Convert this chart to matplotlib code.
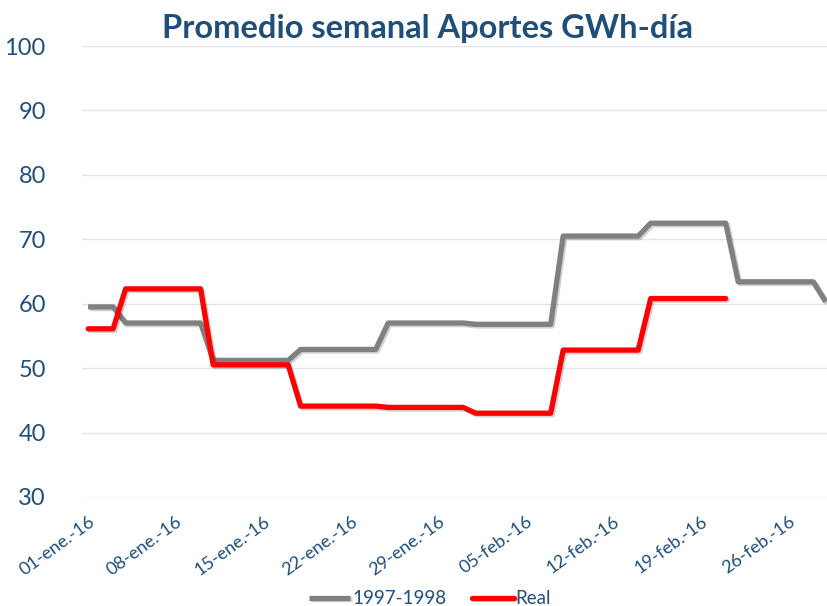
import matplotlib

matplotlib.use("Agg")
import matplotlib.pyplot as plt
import matplotlib.patheffects as pe
import numpy as np

# weekly averages, daily resolution from 01-ene-16
gray_values = (
    [59.5] * 3 + [57.0] * 7 + [51.2] * 7 + [52.9] * 7 + [57.0] * 7
    + [56.8] * 7 + [70.5] * 7 + [72.5] * 7 + [63.4] * 7 + [60.3]
)
red_values = (
    [56.1] * 3 + [62.3] * 7 + [50.5] * 7 + [44.1] * 7 + [43.9] * 7
    + [43.0] * 7 + [52.8] * 7 + [60.8] * 7
)
tick_labels = [
    "01-ene.-16", "08-ene.-16", "15-ene.-16", "22-ene.-16", "29-ene.-16",
    "05-feb.-16", "12-feb.-16", "19-feb.-16", "26-feb.-16",
]
y_ticks = [30, 40, 50, 60, 70, 80, 90, 100]

TXT = "#1F4E79"
plt.rcParams["font.family"] = ["Lato", "DejaVu Sans"]

fig = plt.figure(figsize=(8.27, 6.06), dpi=100)
ax = fig.add_axes([0.099, 0.180, 0.907, 0.744])

shadow = [pe.SimpleLineShadow(offset=(1.2, -1.2), shadow_color="black", alpha=0.18), pe.Normal()]
ax.plot(np.arange(len(gray_values)), gray_values, color="#808080", lw=3.8,
        solid_capstyle="butt", solid_joinstyle="round", label="1997-1998", path_effects=shadow)
ax.plot(np.arange(len(red_values)), red_values, color="#FF0000", lw=3.8,
        solid_capstyle="round", solid_joinstyle="round", label="Real", path_effects=shadow)

ax.set_xlim(-0.5, 59.5)
ax.set_ylim(30, 100)
ax.set_yticks(y_ticks)
ax.set_yticklabels([str(v) for v in y_ticks], fontsize=17, color=TXT)
ax.set_xticks(np.arange(len(tick_labels)) * 7)
ax.set_xticklabels(tick_labels, rotation=36, ha="right", rotation_mode="anchor",
                   fontsize=13, color=TXT)
ax.tick_params(axis="both", length=0)
ax.tick_params(axis="y", pad=26)
ax.tick_params(axis="x", pad=12)
ax.grid(axis="y", color="#DCE6F2", lw=1)
ax.set_axisbelow(True)
for s in ax.spines.values():
    s.set_visible(False)

fig.text(0.517, 0.953, "Promedio semanal Aportes GWh-día", ha="center", va="center",
         fontsize=23.5, fontweight="bold", color=TXT)

leg = fig.legend(loc="center", bbox_to_anchor=(0.52, 0.012), ncol=2, frameon=False,
                 fontsize=13.5, handlelength=2.2, handletextpad=0.1, columnspacing=1.4)
for t in leg.get_texts():
    t.set_color(TXT)

fig.savefig("out.png", dpi=100)
